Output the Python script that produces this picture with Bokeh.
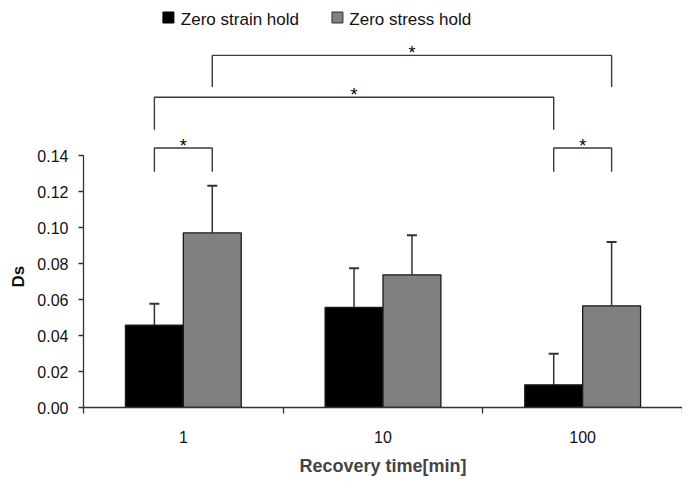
from bokeh.plotting import figure
from bokeh.models import (FixedTicker, LinearAxis, Range1d, Whisker, TeeHead,
                          ColumnDataSource, NumeralTickFormatter, Title)
from bokeh.core.properties import value
from bokeh.embed import file_html
from bokeh.resources import INLINE

# ---------------- data ----------------
categories = ["1", "10", "100"]
series_names = ["Zero strain hold", "Zero stress hold"]
strain = [0.0457, 0.0556, 0.0126]
strain_err = [0.0119, 0.0218, 0.0172]
stress = [0.0970, 0.0737, 0.0565]
stress_err = [0.0262, 0.0220, 0.0354]
y_ticks = [0.00, 0.02, 0.04, 0.06, 0.08, 0.10, 0.12, 0.14]
# significance brackets: (group a, series a, group b, series b, leg bottom, top)
brackets = [
    (0, 0, 0, 1, 0.131, 0.1442),
    (2, 0, 2, 1, 0.131, 0.1442),
    (0, 0, 2, 0, 0.1543, 0.1724),
    (0, 1, 2, 1, 0.178, 0.1956),
]
bracket_label = "*"
y_title = "Ds"
x_title = "Recovery time[min]"

# ---------------- layout constants ----------------
FONT = "Liberation Sans"
DARK = "#333333"
W, H = 682, 478
LEFT = 81
FRAME_H = 407
XS = (W - LEFT) / 3.0          # px per category
YS = 1800.0                    # px per unit
BAR_W = 0.29
OFFS = [-0.145, 0.145]
COLORS = ["#000000", "#808080"]

def bar_x(g, s):
    return g + 0.5 + OFFS[s]

def px2x(px):
    return (px - LEFT) / XS

def py2y(py):
    return (FRAME_H - py) / YS

p = figure(width=W, height=H, output_backend="svg", toolbar_location=None,
           x_range=Range1d(0, 3), y_range=Range1d(0, FRAME_H / YS),
           min_border_left=LEFT, min_border_right=0, min_border_top=0,
           min_border_bottom=H - FRAME_H, x_axis_location=None,
           y_axis_location=None)
p.outline_line_color = None
p.grid.visible = False
p.background_fill_color = "white"
p.border_fill_color = "white"

# bars with upper error bars
for s, (vals, errs) in enumerate([(strain, strain_err), (stress, stress_err)]):
    xs = [bar_x(g, s) for g in range(len(categories))]
    src = ColumnDataSource(dict(x=xs, top=vals, up=[v + e for v, e in zip(vals, errs)]))
    w = Whisker(source=src, base="x", lower="top", upper="up", dimension="height",
                line_color=DARK, line_width=1.5,
                upper_head=TeeHead(size=10, line_color=DARK, line_width=2),
                lower_head=None, level="underlay")
    p.add_layout(w)
    p.vbar(x="x", top="top", bottom=0, width=BAR_W, source=src,
           fill_color=COLORS[s], line_color="#1a1a1a", line_width=1.3)

# significance brackets
bxs, bys, sx, sy = [], [], [], []
for ga, sa, gb, sb, yb, yt in brackets:
    x0, x1 = bar_x(ga, sa), bar_x(gb, sb)
    bxs.append([x0, x0, x1, x1])
    bys.append([yb, yt, yt, yb])
    sx.append((x0 + x1) / 2)
    sy.append(yt)
p.multi_line(bxs, bys, line_color="#3a3a3a", line_width=1.4)
p.text(x=sx, y=sy, text=[bracket_label] * len(sx), text_font=value(FONT),
       text_font_size="18px", text_align="center", text_baseline="alphabetic",
       text_color="#000000", y_offset=-2)

# legend (drawn at the top)
leg_sq_x = [px2x(166.2), px2x(335.8)]
leg_tx_x = [px2x(178.7), px2x(347.7)]
p.rect(x=leg_sq_x, y=[py2y(17.0)] * 2, width=11, height=11,
       width_units="screen", height_units="screen",
       fill_color=COLORS, line_color=["#000000", "#333333"], line_width=1)
p.text(x=leg_tx_x, y=[py2y(19.3)] * 2, text=series_names, text_font=value(FONT),
       text_font_size="17px", text_baseline="middle", text_align="left",
       text_color="#111111")

# y axis
ya = LinearAxis(ticker=FixedTicker(ticks=y_ticks), bounds=(0, 0.14),
                formatter=NumeralTickFormatter(format="0.00"))
ya.axis_line_color = DARK
ya.axis_line_width = 1.3
ya.major_tick_line_color = DARK
ya.major_tick_line_width = 1.3
ya.major_tick_out = 5
ya.major_tick_in = 0
ya.minor_tick_line_color = None
ya.major_label_text_font = FONT
ya.major_label_text_font_size = "16px"
ya.major_label_text_color = "#111111"
ya.major_label_standoff = 10
p.add_layout(ya, "left")

# y title as a side title, starting part-way up the axis
yt_title = Title(text=y_title, align="left", offset=120, standoff=13,
                 text_font=FONT, text_font_style="bold", text_font_size="17px",
                 text_color="#111111")
p.add_layout(yt_title, "left")

# x axis: labels at category centres, ticks (minor) at category boundaries
xa = LinearAxis(ticker=FixedTicker(ticks=[0.5, 1.5, 2.5], minor_ticks=[0, 1, 2, 3]),
                major_label_overrides={0.5 + i: c for i, c in enumerate(categories)},
                axis_label=x_title)
xa.axis_line_color = DARK
xa.axis_line_width = 1.3
xa.major_tick_line_color = None
xa.major_tick_out = 0
xa.major_tick_in = 0
xa.minor_tick_line_color = DARK
xa.minor_tick_line_width = 1.3
xa.minor_tick_out = 6
xa.minor_tick_in = 0
xa.major_label_text_font = FONT
xa.major_label_text_font_size = "16px"
xa.major_label_text_color = "#111111"
xa.major_label_standoff = 17
xa.axis_label_text_font = FONT
xa.axis_label_text_font_style = "bold"
xa.axis_label_text_font_size = "18px"
xa.axis_label_standoff = 10
p.add_layout(xa, "below")

open("out.html", "w").write(file_html(p, INLINE))
